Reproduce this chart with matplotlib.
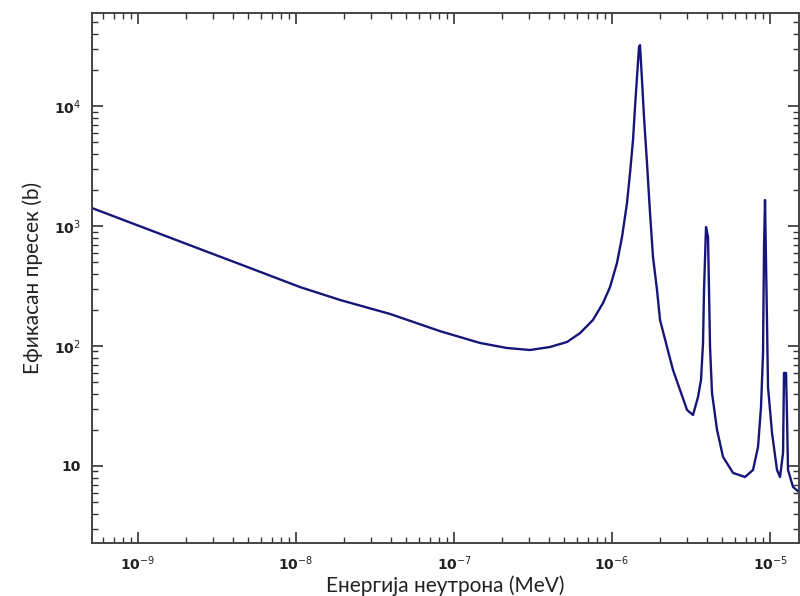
import math

import matplotlib

matplotlib.use("Agg")
import matplotlib.pyplot as plt
from matplotlib.ticker import FixedLocator, FuncFormatter, LogLocator, NullFormatter

# neutron energy (MeV) and cross section (b)
energy_mev = [
    5.115e-10, 1.191e-9, 2.468e-9, 5.115e-9, 1.060e-8, 1.899e-8, 3.934e-8, 8.152e-8,
    1.461e-7, 2.165e-7, 3.027e-7, 4.052e-7, 5.19e-7, 6.273e-7, 7.58e-7, 8.77e-7,
    9.712e-7, 1.075e-6, 1.157e-6, 1.244e-6, 1.300e-6, 1.358e-6, 1.398e-6, 1.439e-6,
    1.482e-6, 1.504e-6, 1.548e-6, 1.594e-6, 1.665e-6, 1.740e-6, 1.817e-6, 1.927e-6,
    2.013e-6, 2.229e-6, 2.432e-6, 2.694e-6, 2.983e-6, 3.256e-6, 3.502e-6, 3.658e-6,
    3.767e-6, 3.822e-6, 3.935e-6, 4.052e-6, 4.111e-6, 4.172e-6, 4.294e-6, 4.619e-6,
    5.042e-6, 5.831e-6, 6.946e-6, 7.806e-6, 8.395e-6, 8.77e-6, 9.031e-6, 9.163e-6,
    9.298e-6, 9.573e-6, 9.712e-6, 1.030e-5, 1.107e-5, 1.157e-5, 1.209e-5, 1.226e-5,
    1.263e-5, 1.281e-5, 1.300e-5, 1.398e-5, 1.549e-5,
]
sigma_b = [
    1413, 926, 643, 447, 310, 242, 185, 133,
    106, 96.2, 92.6, 98.1, 108, 128, 165, 228,
    310, 492, 810, 1555, 2765, 5208, 9810, 17450,
    31020, 32240, 16480, 8097, 3350, 1283, 552, 293,
    165, 98.1, 63.1, 43.0, 29.3, 26.6, 37.6, 52.1,
    106, 293, 981, 809, 293, 98.1, 40.6, 20.0,
    11.9, 8.75, 8.09, 9.26, 14.4, 31.0, 87.4, 668,
    1648, 155, 45.5, 18.8, 9.26, 8.09, 12.8, 59.6,
    59.6, 25.6, 9.26, 6.68, 5.96,
]

x_major = [1e-9, 1e-8, 1e-7, 1e-6, 1e-5]
y_major = [10, 1e2, 1e3, 1e4]
y_labels = {10: "10", 100: "10$^2$", 1000: "10$^3$", 10000: "10$^4$"}


def x_fmt(v, _):
    return f"10$^{{{int(round(math.log10(v)))}}}$"


fig = plt.figure(figsize=(8.0, 5.96), dpi=100)
ax = fig.add_axes([0.115, 0.089, 0.884, 0.889])

ax.plot(energy_mev, sigma_b, color="#16167a", lw=1.7)
ax.set_xscale("log")
ax.set_yscale("log")
ax.set_xlim(5.115e-10, 1.53e-5)
ax.set_ylim(2.28, 5.96e4)

ax.xaxis.set_major_locator(FixedLocator(x_major))
ax.yaxis.set_major_locator(FixedLocator(y_major))
ax.xaxis.set_minor_locator(LogLocator(base=10, subs=range(2, 10), numticks=20))
ax.yaxis.set_minor_locator(LogLocator(base=10, subs=range(2, 10), numticks=20))
ax.xaxis.set_minor_formatter(NullFormatter())
ax.yaxis.set_minor_formatter(NullFormatter())
ax.xaxis.set_major_formatter(FuncFormatter(x_fmt))
ax.yaxis.set_major_formatter(FuncFormatter(lambda v, _: y_labels.get(int(round(v)), "")))

ax.tick_params(which="both", direction="in", top=True, right=True, color="#333333",
               labelsize=10, pad=8)
ax.tick_params(which="major", length=8, width=1.2)
ax.tick_params(which="minor", length=4, width=1.0)
for lab in ax.get_xticklabels() + ax.get_yticklabels():
    lab.set_fontweight("bold")
    lab.set_color("#222222")
for sp in ax.spines.values():
    sp.set_color("#444444")
    sp.set_linewidth(1.4)

ax.set_xlabel("Енергија неутрона (MeV)", fontsize=15, family="Lato", color="#222222", labelpad=2)
ax.set_ylabel("Ефикасан пресек (b)", fontsize=15, family="Lato", color="#222222", labelpad=8)

fig.savefig("out.png", dpi=100, facecolor="white")
